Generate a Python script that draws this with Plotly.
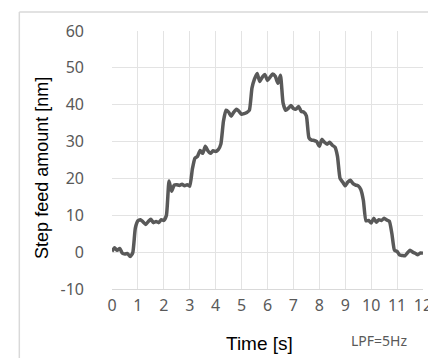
import plotly.graph_objects as go

time_s = [round(i * 0.1, 1) for i in range(121)]
step_nm = [
    0.2, 1.2, 0.5, 1.0, -0.3, -0.5, -0.4, -1.2, -0.2, 6.5,
    8.5, 8.8, 8.2, 7.5, 8.3, 8.9, 8.0, 8.3, 8.0, 8.8,
    8.6, 10.0, 19.3, 16.5, 18.2, 18.3, 18.1, 18.4, 18.0, 18.3,
    17.9, 22.5, 25.5, 26.0, 27.6, 26.8, 28.7, 27.5, 26.8, 27.5,
    27.3, 27.8, 29.3, 35.5, 38.5, 38.0, 36.9, 38.0, 38.8, 38.2,
    37.4, 37.6, 37.9, 38.5, 44.5, 47.0, 48.5, 46.3, 47.5, 48.2,
    46.6, 47.5, 48.3, 47.7, 45.8, 48.0, 40.5, 38.5, 39.0, 39.8,
    39.0, 38.8, 39.5, 38.2, 38.0, 37.0, 31.0, 30.4, 30.3, 30.0,
    28.7, 30.6, 29.8, 29.3, 29.8, 29.0, 28.5, 26.0, 20.0, 19.0,
    18.0, 19.0, 19.5, 18.6, 18.2, 18.0, 17.0, 14.0, 8.5, 8.6,
    7.9, 9.2, 8.1, 8.8, 8.6, 9.2, 8.7, 8.4, 5.0, 0.5,
    0.2, -0.8, -0.9, -1.0, -0.2, 0.5, 0.0, -0.3, -0.7, -0.2,
    -0.3,
]
x_ticks = list(range(0, 13))
y_ticks = list(range(-10, 61, 10))

fig = go.Figure()
fig.add_trace(go.Scatter(x=time_s, y=step_nm, mode="lines",
                         line=dict(color="#595959", width=3.5, shape="spline", smoothing=0.5),
                         showlegend=False, hoverinfo="skip"))

tick_font = dict(family="Noto Sans, Open Sans, sans-serif", size=16, color="#595959")
frame = dict(color="#d9d9d9", width=1.5)
fig.update_layout(
    width=436, height=358,
    margin=dict(l=104, r=17, t=23, b=77),
    paper_bgcolor="white", plot_bgcolor="white",
    xaxis=dict(range=[0, 12], tickvals=x_ticks, ticktext=[str(v) for v in x_ticks],
               showgrid=True, gridcolor="#e3e3e3", gridwidth=1,
               zeroline=False, showline=True, linecolor="#d9d9d9",
               ticks="", tickfont=tick_font, ticklabelstandoff=2, fixedrange=True),
    yaxis=dict(range=[-10, 60], tickvals=y_ticks, ticktext=[str(v) for v in y_ticks],
               showgrid=True, gridcolor="#e3e3e3", gridwidth=1,
               zeroline=False, showline=False,
               ticks="", tickfont=tick_font, ticklabelstandoff=27, fixedrange=True),
    shapes=[
        dict(type="line", xref="paper", yref="paper",
             x0=-0.298, x1=1.06, y0=1.0736, y1=1.0736, line=frame, layer="below"),
        dict(type="line", xref="paper", yref="paper",
             x0=-0.298, x1=-0.298, y0=-0.32, y1=1.0736, line=frame, layer="below"),
    ],
    annotations=[
        dict(text="Step feed amount [nm]", xref="paper", yref="paper",
             x=(33 - 104) / 315, y=(281 - 160) / 258, textangle=-90, showarrow=False,
             font=dict(family="Liberation Sans, Arial, sans-serif", size=18, color="black"),
             xanchor="center", yanchor="middle"),
        dict(text="Time [s]", xref="paper", yref="paper",
             x=(253 - 104) / 315, y=-(335 - 281) / 258, showarrow=False,
             font=dict(family="Liberation Sans, Arial, sans-serif", size=19, color="black"),
             xanchor="center", yanchor="middle"),
        dict(text="LPF=5Hz", xref="paper", yref="paper",
             x=(374 - 104) / 315, y=-(332 - 281) / 258, showarrow=False,
             font=dict(family="Noto Sans, Open Sans, sans-serif", size=14, color="#595959"),
             xanchor="center", yanchor="middle"),
    ],
)
fig.write_html("out.html")
